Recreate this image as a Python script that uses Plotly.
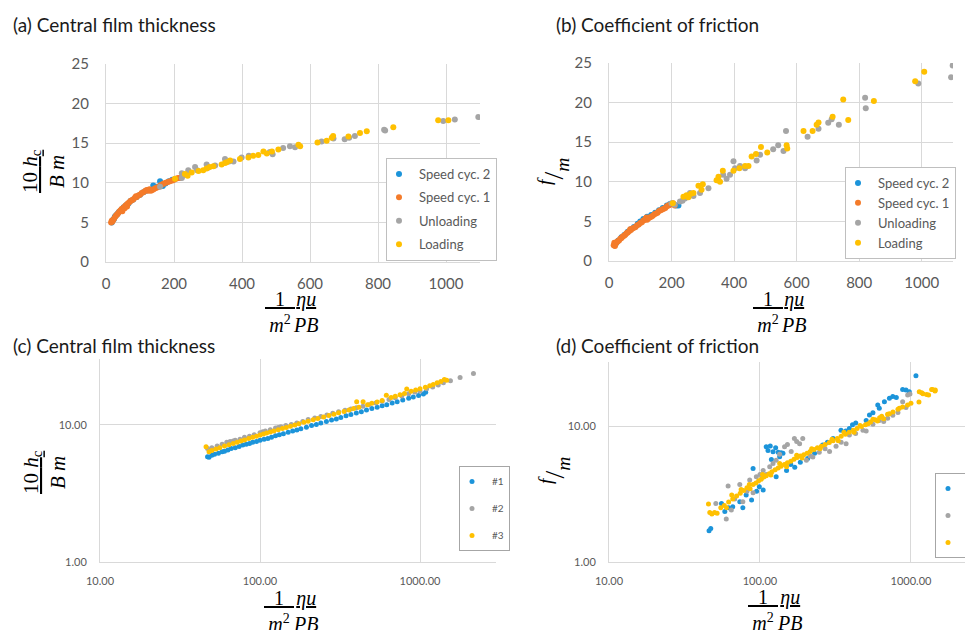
import plotly.graph_objects as go

W, H = 965, 630

# ---------------- data ----------------
# (a) Central film thickness (linear)
a_cyc2_x = [17, 20, 23, 26, 30, 34, 38, 45, 52, 60, 66, 72, 80, 90, 100, 110, 118, 126, 139, 150, 159, 167, 175, 185, 195]
a_cyc2_y = [5.0, 5.3, 5.4, 5.7, 5.9, 6.1, 6.3, 6.6, 6.9, 7.2, 7.4, 7.7, 7.9, 8.2, 8.5, 8.8, 9.0, 9.1, 9.65, 9.5, 10.2, 9.6, 9.9, 10.2, 10.4]
a_cyc1_x = [15, 17, 19, 21, 24, 27, 30, 33, 36, 40, 43, 46, 48, 50, 53, 55, 57, 60, 62, 64, 68, 72, 76, 80, 85, 88, 90, 95, 100,
            105, 110, 116, 120, 124, 128, 132, 136, 140, 145, 150, 155, 160, 165, 170, 176, 182, 188, 195, 200, 206, 212, 218]
a_cyc1_y = [5.0, 5.2, 5.1, 5.3, 5.5, 5.7, 5.9, 6.0, 6.2, 6.4, 6.5, 6.7, 6.4, 6.8, 6.9, 6.8, 7.1, 7.2, 7.0, 7.4, 7.5, 7.7, 7.8, 7.9, 8.1, 8.3, 8.2, 8.4, 8.5,
            8.7, 8.8, 9.0, 9.1, 9.0, 9.2, 9.0, 9.1, 9.2, 9.3, 9.4, 9.5, 9.7, 9.8, 9.9, 10.0, 10.1, 10.2, 10.3, 10.4, 10.5, 10.6, 10.6]
a_unload_x = [159, 223, 223, 226, 242, 262, 268, 296, 300, 321, 350, 362, 375, 399, 420, 482, 490, 521, 541, 556, 634, 669, 702, 715, 732, 818, 821, 992, 1026, 1095]
a_unload_y = [9.5, 10.6, 11.2, 10.9, 11.6, 12.0, 11.6, 12.3, 11.9, 12.2, 13.0, 12.7, 12.7, 13.2, 13.4, 13.9, 13.6, 14.4, 14.6, 14.5, 15.2, 15.6, 15.5, 15.7, 15.9, 16.7, 16.6, 17.8, 18.0, 18.3]
a_load_x = [203, 232, 240, 252, 272, 286, 296, 305, 316, 340, 350, 355, 365, 394, 419, 433, 448, 463, 473, 488, 507, 566, 571, 622, 649, 664, 668, 713, 747, 767, 845, 977, 1007]
a_load_y = [10.5, 11.1, 10.9, 11.3, 11.5, 11.6, 11.8, 12.0, 12.1, 12.3, 12.5, 12.6, 12.8, 13.0, 13.2, 13.4, 13.5, 13.95, 13.7, 13.95, 14.2, 14.8, 14.6, 15.1, 15.3, 15.7, 15.9, 15.85, 16.3, 16.5, 17.0, 17.9, 17.9]

# (b) Coefficient of friction (linear)
b_cyc2_x = [18, 24, 30, 40, 50, 60, 70, 80, 92, 100, 110, 122, 135, 148, 160, 172, 185, 195, 215, 222]
b_cyc2_y = [2.0, 2.3, 2.6, 3.0, 3.3, 3.7, 4.0, 4.3, 4.7, 5.0, 5.3, 5.6, 5.8, 6.1, 6.4, 6.7, 7.0, 7.2, 7.0, 7.0]
b_cyc1_x = [15, 17, 19, 22, 25, 28, 32, 36, 40, 44, 48, 52, 56, 60, 65, 68, 70, 75, 80, 85, 90, 95, 100, 105, 110, 115, 118, 120,
            122, 126, 130, 135, 140, 145, 150, 155, 160, 165, 170, 175, 180, 185, 190, 195, 200, 205, 210]
b_cyc1_y = [2.0, 2.3, 1.9, 2.2, 2.4, 2.5, 2.6, 2.8, 2.9, 3.1, 3.2, 3.3, 3.5, 3.6, 3.8, 4.0, 3.9, 4.1, 4.2, 4.3, 4.5, 4.6, 4.8, 4.9, 5.1, 5.2, 5.4, 5.5,
            5.2, 5.4, 5.5, 5.6, 5.7, 5.9, 6.0, 6.1, 6.3, 6.4, 6.5, 6.6, 6.7, 6.9, 7.0, 7.1, 7.2, 7.3, 7.0]
b_unload_x = [200, 210, 227, 235, 243, 259, 270, 291, 318, 350, 365, 376, 387, 398, 403, 419, 435, 472, 483, 525, 541, 558, 566, 635, 670, 701, 712, 735, 819, 821, 989, 1094, 1099]
b_unload_y = [7.3, 7.1, 7.5, 7.6, 7.9, 8.6, 8.2, 8.6, 9.2, 10.2, 10.9, 10.4, 10.9, 12.6, 11.7, 12.0, 11.7, 12.7, 13.4, 14.1, 14.6, 13.9, 16.4, 15.7, 16.7, 17.45, 17.9, 17.2, 20.6, 19.3, 22.4, 23.2, 24.7]
b_load_x = [204, 238, 248, 254, 262, 270, 286, 296, 300, 344, 350, 355, 364, 398, 417, 435, 446, 456, 470, 486, 506, 568, 570, 622, 651, 664, 670, 715, 749, 765, 847, 979, 1008]
b_load_y = [7.3, 8.1, 8.3, 8.05, 8.5, 8.6, 9.5, 9.0, 9.7, 10.2, 10.65, 10.0, 11.4, 11.4, 11.7, 12.0, 12.0, 13.2, 13.5, 14.4, 13.7, 14.6, 14.2, 16.4, 16.4, 17.2, 17.5, 18.2, 20.4, 17.8, 20.2, 22.7, 23.9]

# (c) Central film thickness (log-log)
c1_x = [47, 48, 50, 52, 55, 58, 60, 63, 66, 70, 74, 78, 82, 86, 90, 95, 100, 106, 112, 118, 125, 132, 140, 150, 160, 170, 180, 195,
        210, 225, 240, 260, 280, 300, 320, 345, 370, 400, 430, 463, 500, 540, 580, 620, 670, 720, 780, 850, 908, 980, 1050, 1085]
c1_y = [5.85, 5.8, 6.0, 6.1, 6.2, 6.35, 6.4, 6.55, 6.7, 6.8, 6.95, 7.1, 7.2, 7.3, 7.45, 7.55, 7.7, 7.85, 7.95, 8.1, 8.3, 8.45, 8.6, 8.8, 9.0, 9.15, 9.35, 9.6,
        9.85, 10.05, 10.3, 10.55, 10.8, 11.0, 11.3, 11.6, 11.85, 12.15, 12.4, 12.8, 13.1, 13.4, 13.75, 14.0, 14.4, 14.7, 15.1, 15.6, 15.9, 16.3, 16.7, 17.2]
c2_x = [47, 50, 54, 58, 62, 65, 68, 70, 75, 80, 86, 92, 100, 104, 108, 116, 125, 130, 135, 145, 157, 170, 185, 200, 220, 240, 262, 285, 310,
        340, 370, 400, 440, 480, 530, 580, 640, 700, 770, 850, 930, 1000, 1100, 1200, 1300, 1400, 1550, 1780, 2158]
c2_y = [6.7, 6.8, 7.0, 7.2, 7.45, 7.55, 7.6, 7.7, 7.85, 8.1, 8.25, 8.45, 8.75, 8.9, 9.0, 9.2, 9.45, 9.55, 9.65, 9.85, 10.05, 10.3, 10.55, 10.9, 11.2, 11.45, 11.75, 12.1, 12.4,
        12.75, 13.0, 13.3, 13.6, 13.95, 14.4, 14.8, 15.25, 15.7, 16.2, 16.8, 17.3, 17.6, 18.3, 18.8, 19.5, 20.2, 20.9, 22.1, 23.6]
c3_x = [46, 48, 50, 53, 56, 60, 64, 68, 72, 76, 80, 85, 90, 95, 100, 105, 110, 116, 122, 130, 138, 146, 155, 165, 175, 188, 200, 215, 230,
        250, 270, 290, 310, 335, 360, 385, 402, 415, 441, 470, 500, 540, 580, 616, 660, 700, 750, 800, 826, 880, 940, 1000, 1080, 1150, 1211,
        1280, 1350, 1420, 1468]
c3_y = [6.9, 6.35, 6.5, 6.65, 6.8, 7.0, 7.15, 7.3, 7.45, 7.6, 7.75, 7.95, 8.1, 8.25, 8.4, 8.55, 8.7, 8.85, 9.0, 9.2, 9.4, 9.55, 9.75, 9.95, 10.15, 10.4, 10.6, 10.85, 11.1,
        11.4, 11.65, 11.9, 12.2, 12.5, 12.8, 13.1, 14.7, 13.4, 14.7, 13.95, 14.3, 14.65, 15.0, 16.4, 15.75, 16.1, 16.5, 16.9, 18.2, 17.5, 17.9, 18.3, 18.7, 19.2, 19.6,
        20.2, 20.6, 21.3, 21.1]

# (d) Coefficient of friction (log-log)
d1_x = [46, 47.2, 55.6, 58.5, 62, 66, 73.5, 77, 81, 88, 90, 95, 99, 105, 110, 113, 117, 119, 122, 127, 132, 135, 138, 142, 150, 128, 160,
        170, 185, 207, 230, 260, 280, 305, 344, 370, 391, 410, 431, 505, 531, 560, 603, 617, 667, 720, 758, 800, 881, 927, 975, 1079]
d1_y = [1.69, 1.76, 2.69, 2.34, 2.5, 2.54, 2.77, 2.5, 3.1, 2.85, 4.87, 3.3, 3.57, 3.37, 7.04, 6.6, 7.12, 5.67, 6.46, 6.9, 6.4, 5.94, 6.36, 6.3, 4.7, 4.23, 5.2,
        4.97, 5.4, 5.77, 6.3, 7.25, 7.6, 8.1, 9.3, 9.2, 9.6, 10.2, 10.5, 11.0, 12.05, 12.5, 14.3, 13.5, 15.1, 16.0, 16.5, 16.2, 18.6, 18.4, 17.9, 23.5]
d2_x = [51, 59.8, 61.5, 64.6, 68, 73.5, 77, 82, 85.5, 90, 94.6, 100, 105, 110, 116, 122, 128, 135, 145.5, 152, 161, 169, 175, 183, 192,
        203, 215, 224, 247, 270, 289, 319, 345, 372, 391, 430, 481, 505, 560, 617, 660, 701, 758, 820, 881, 927, 951, 985]
d2_y = [2.69, 2.06, 3.61, 2.4, 2.9, 3.7, 2.77, 3.3, 4.0, 3.22, 4.23, 4.4, 4.7, 4.4, 5.0, 5.3, 5.6, 6.2, 7.04, 7.3, 6.5, 8.1, 7.7, 7.4, 8.1,
        5.6, 6.0, 5.9, 6.4, 6.8, 6.5, 7.1, 7.6, 7.4, 8.6, 8.8, 9.3, 9.2, 10.3, 11.0, 10.8, 11.4, 12.0, 12.6, 15.1, 13.7, 16.9, 17.2]
d3_x = [45.6, 46.5, 48, 50, 52, 55, 58, 60, 62, 65, 66, 70, 74, 75, 78, 82, 85, 86, 90, 94, 98, 102, 104, 106, 110, 115, 118, 120, 126, 132,
        135, 138, 145, 150, 152, 160, 168, 175, 176, 185, 190, 195, 205, 215, 220, 228, 240, 250, 255, 270, 288, 300, 305, 325, 330, 345,
        360, 368, 390, 415, 420, 440, 460, 470, 500, 520, 540, 560, 580, 600, 620, 640, 660, 700, 720, 760, 820, 838, 880, 950, 1000,
        1130, 1135, 1178, 1200, 1270, 1309, 1371, 1390, 1443, 1450]
d3_y = [2.66, 2.3, 2.25, 2.3, 2.28, 2.5, 2.6, 2.5, 2.75, 3.1, 2.9, 3.05, 3.2, 3.4, 3.35, 3.5, 3.7, 3.45, 3.7, 3.8, 3.95, 4.05, 4.4, 4.2, 4.3, 4.45, 4.35, 4.6, 4.75, 4.9,
        5.3, 5.05, 5.2, 5.0, 5.35, 5.5, 5.7, 6.1, 5.85, 6.0, 5.8, 6.15, 6.3, 6.5, 6.8, 6.7, 6.9, 6.8, 7.1, 7.3, 7.55, 8.0, 7.8, 8.1, 7.8, 8.4,
        9.0, 8.7, 9.0, 9.3, 9.0, 9.6, 10.1, 9.9, 10.2, 10.4, 10.7, 11.2, 11.1, 10.9, 11.5, 11.8, 11.3, 12.2, 12.3, 12.7, 13.3, 13.5, 13.8, 14.3, 14.7,
        15.0, 17.9, 17.6, 17.3, 17.1, 16.9, 18.6, 18.6, 18.1, 18.4]

# ---------------- style ----------------
BLUE, ORANGE, GRAY, GOLD = "#1C94DA", "#F47B2A", "#A5A5A5", "#FFC000"
GRID = "#D9D9D9"
TICK = "#595959"
UI = "Lato"
MATH = "Liberation Serif"


def px(x):
    return x / W


def py(y):
    return 1 - y / H


fig = go.Figure()


def add(x, y, name, color, ax, leg, size):
    fig.add_trace(go.Scatter(
        x=x, y=y, mode="markers", name=name,
        marker=dict(color=color, size=size, line=dict(width=0)),
        xaxis=ax[0], yaxis=ax[1], legend=leg, legendgroup=leg + name,
        hoverinfo="skip"))


add(a_cyc2_x, a_cyc2_y, "Speed cyc. 2", BLUE, ("x", "y"), "legend", 6)
add(a_cyc1_x, a_cyc1_y, "Speed cyc. 1", ORANGE, ("x", "y"), "legend", 6)
add(a_unload_x, a_unload_y, "Unloading", GRAY, ("x", "y"), "legend", 6)
add(a_load_x, a_load_y, "Loading", GOLD, ("x", "y"), "legend", 6)

add(b_cyc2_x, b_cyc2_y, "Speed cyc. 2", BLUE, ("x2", "y2"), "legend2", 6)
add(b_cyc1_x, b_cyc1_y, "Speed cyc. 1", ORANGE, ("x2", "y2"), "legend2", 6)
add(b_unload_x, b_unload_y, "Unloading", GRAY, ("x2", "y2"), "legend2", 6)
add(b_load_x, b_load_y, "Loading", GOLD, ("x2", "y2"), "legend2", 6)

add(c1_x, c1_y, "#1", BLUE, ("x3", "y3"), "legend3", 5)
add(c2_x, c2_y, "#2", GRAY, ("x3", "y3"), "legend3", 5)
add(c3_x, c3_y, "#3", GOLD, ("x3", "y3"), "legend3", 5)

add(d1_x, d1_y, "#1", BLUE, ("x4", "y4"), "legend4", 5)
add(d2_x, d2_y, "#2", GRAY, ("x4", "y4"), "legend4", 5)
add(d3_x, d3_y, "#3", GOLD, ("x4", "y4"), "legend4", 5)

common = dict(showgrid=True, gridcolor=GRID, gridwidth=1, zeroline=False, showline=True,
              linecolor=GRID, linewidth=1, ticks="", fixedrange=True)
lin_font = dict(family=UI, size=15, color=TICK)
log_font = dict(family=UI, size=11, color=TICK)

fig.update_layout(
    xaxis=dict(domain=[px(106), px(480)], anchor="y", range=[0, 1100], tick0=0, dtick=200,
               tickfont=lin_font, ticklabelstandoff=8, **common),
    yaxis=dict(domain=[py(262), py(64)], anchor="x", range=[0, 25], tick0=0, dtick=5,
               tickfont=lin_font, ticklabelstandoff=13, **common),
    xaxis2=dict(domain=[px(609), px(953)], anchor="y2", range=[0, 1100], tick0=0, dtick=200,
                tickfont=lin_font, ticklabelstandoff=8, **common),
    yaxis2=dict(domain=[py(261), py(63)], anchor="x2", range=[0, 25], tick0=0, dtick=5,
                tickfont=lin_font, ticklabelstandoff=13, **common),
    xaxis3=dict(domain=[px(100), px(496)], anchor="y3", type="log", range=[1, 3.475],
                tickvals=[10, 100, 1000], ticktext=["10.00", "100.00", "1000.00"],
                tickfont=log_font, ticklabelstandoff=9, **common),
    yaxis3=dict(domain=[py(562), py(359)], anchor="x3", type="log", range=[0, 1.4785],
                tickvals=[1, 10], ticktext=["1.00", "10.00"],
                tickfont=log_font, ticklabelstandoff=10, **common),
    xaxis4=dict(domain=[px(609), 1.0], anchor="y4", type="log", range=[1, 3.358],
                tickvals=[10, 100, 1000], ticktext=["10.00", "100.00", "1000.00"],
                tickfont=log_font, ticklabelstandoff=9, **common),
    yaxis4=dict(domain=[py(561.7), py(361.7)], anchor="x4", type="log", range=[0, 1.4738],
                tickvals=[1, 10], ticktext=["1.00", "10.00"],
                tickfont=log_font, ticklabelstandoff=10, **common),
)

leg_common = dict(xref="paper", yref="paper", xanchor="left", yanchor="top", bgcolor="white",
                  borderwidth=1, itemwidth=30, indentation=-8, traceorder="grouped")
fig.update_layout(
    legend=dict(x=px(386), y=py(158), bordercolor="#BFBFBF", tracegroupgap=3.5,
                font=dict(family=UI, size=13, color=TICK), **leg_common),
    legend2=dict(x=px(845), y=py(167), bordercolor="#BFBFBF", tracegroupgap=0,
                 font=dict(family=UI, size=13, color=TICK), **leg_common),
    legend3=dict(x=px(459), y=py(466), bordercolor="#A6A6A6", tracegroupgap=8,
                 font=dict(family=UI, size=10, color=TICK), **leg_common),
    legend4=dict(x=px(935), y=py(473), bordercolor="#A6A6A6", tracegroupgap=8,
                 font=dict(family=UI, size=10, color=TICK), **leg_common),
)

ann = []
titles = [("(a) Central film thickness", 11, 25), ("(b) Coefficient of friction", 554, 25),
          ("(c) Central film thickness", 11, 345), ("(d) Coefficient of friction", 554, 345)]
for t, x, y in titles:
    ann.append(dict(text=t, x=px(x), y=py(y), xanchor="left", yanchor="middle",
                    font=dict(family=UI, size=19, color="#1A1A1A")))

frac1 = "<u>\u00a0\u00a01\u00a0\u00a0</u><br><i>m</i><sup>2</sup>"
frac2 = "<u><i>\u03b7u</i></u><br><i>PB</i>"
for c1, c2, yc in [(279.5, 305.5, 312), (767.6, 793.3, 312), (279, 305.5, 611), (762.5, 789.3, 610)]:
    ann.append(dict(text=frac1, x=px(c1), y=py(yc), xanchor="center", yanchor="middle",
                    font=dict(family=MATH, size=20, color="black")))
    ann.append(dict(text=frac2, x=px(c2), y=py(yc), xanchor="center", yanchor="middle",
                    font=dict(family=MATH, size=20, color="black")))

hc = "<u>10\u00a0<i>h</i><sub>c</sub></u><br><i>B\u00a0m</i>"
fm = "<i><sup>f</sup></i>/<i><sub>m</sub></i>"
for txt, x, y, s in [(hc, 44, 171, 21), (hc, 44, 472, 21), (fm, 554, 172, 28), (fm, 554, 471, 28)]:
    ann.append(dict(text=txt, x=px(x), y=py(y), xanchor="center", yanchor="middle", textangle=-90,
                    font=dict(family=MATH, size=s, color="black")))

for a in ann:
    a.update(xref="paper", yref="paper", showarrow=False)

fig.update_layout(
    annotations=ann,
    width=W, height=H,
    margin=dict(l=0, r=0, t=0, b=0, autoexpand=False),
    paper_bgcolor="white", plot_bgcolor="white",
    showlegend=True,
)

fig.write_html("out.html", config={"displayModeBar": False},
               post_script="document.body.style.margin='0px';")
